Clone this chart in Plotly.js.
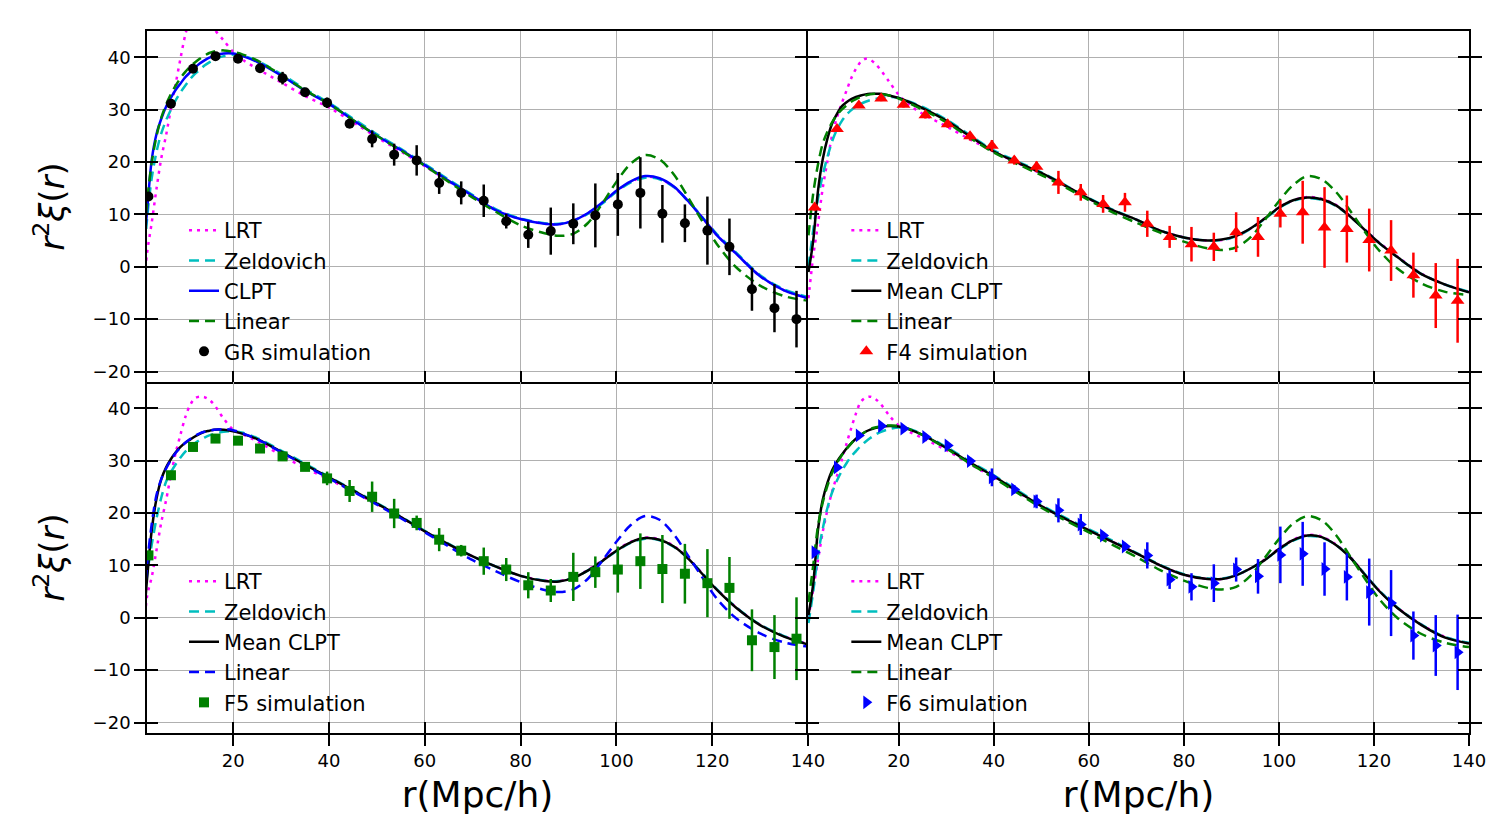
<!DOCTYPE html>
<html><head><meta charset="utf-8">
<script src="https://cdn.plot.ly/plotly-3.0.1.min.js"></script>
<style>html,body{margin:0;padding:0;background:#fff;} #chart{width:1512px;height:840px;}</style>
</head><body><div id="chart"></div>
<script>
// ---------- data ----------
const rCurve = [1,2,3,4,5,6,7,8,9,10,11,12,13,14,15,16,18,20,22,25,30,35,40,45,50,55,60,65,70,75,80,85,88,91,94,97,100,103,106,109,112,115,118,121,125,130,135,140];
const rSim = [2.3,7.0,11.6,16.3,21.0,25.6,30.3,35.0,39.6,44.3,49.0,53.6,58.3,63.0,67.6,72.3,77.0,81.6,86.3,91.0,95.6,100.3,105.0,109.6,114.3,119.0,123.6,128.3,133.0,137.6];

// GR panel
const grLRT  = [-8,2.5,8.5,15,20.8,25.2,30.2,35,39.8,44.3,47.5,49.5,50,49.5,47.8,45.5,43.2,41.0,39.5,37.8,35.2,32.6,30.4,27.6,24.7,22.0,19.2,16.3,13.5,10.8,9.1,8.2,8.1,8.8,10.2,12.2,14.4,16.2,17.2,16.8,15.2,12.5,9.3,6.0,2.5,-1.8,-4.5,-6.0];
const grZel  = [-5,9,17,22,25.5,28,30,31.8,33.3,34.6,35.8,36.8,37.6,38.4,39.0,39.5,40.2,40.5,40.3,39.3,36.8,33.9,31.3,28.3,25.3,22.5,19.6,16.6,13.7,10.9,9.2,8.3,8.2,8.8,10.1,12.0,14.3,16.1,17.0,16.7,15.2,12.5,9.4,6.2,2.7,-1.6,-4.3,-5.8];
const grCLPT = [0,10.5,20.5,25.4,28.3,30.6,32.3,33.8,35.0,36.2,37.1,38.0,38.8,39.4,39.9,40.3,40.7,40.7,40.2,39.1,36.5,33.6,31.1,28.0,25.0,22.3,19.4,16.4,13.5,10.7,9.1,8.2,8.1,8.8,10.2,12.2,14.5,16.3,17.3,16.9,15.3,12.5,9.3,6.0,2.5,-1.8,-4.5,-6.0];
const grLin  = [-2,12,20,25,28.5,31,33,34.6,36,37.2,38.2,39,39.7,40.3,40.8,41.1,41.3,41.0,40.5,39.4,36.6,33.7,31.1,28.0,25.0,22.2,19.3,16.2,13.2,10.4,7.9,6.4,5.9,6.3,8.3,12.0,16.2,19.7,21.3,20.5,17.6,13.2,8.6,4.3,-0.1,-3.6,-5.6,-6.5];
const grSim  = [13.4,31.1,37.8,40.2,39.7,37.9,36.0,33.3,31.3,27.3,24.4,21.4,20.3,16.0,14.1,12.6,8.7,6.1,6.8,8.2,9.8,11.9,14.1,10.1,8.3,6.9,3.8,-4.3,-7.9,-10.0];
const grErr  = [0.4,0.4,0.5,0.5,0.6,0.7,1.2,0.8,1.0,0.8,1.6,2.1,2.9,2.1,2.2,3.1,1.4,2.5,4.5,3.9,6.1,6.0,6.8,5.5,3.6,6.5,5.4,4.1,4.6,5.4];

// F4 panel
const f4LRT  = [-6,2,8.2,15,20.2,25.2,28.5,31.2,33.6,36.0,37.8,39.1,39.7,39.5,38.8,37.8,35.3,32.8,31.0,29.2,26.8,24.3,22.0,19.8,17.8,15.5,13.0,10.8,9.0,6.9,5.6,5.0,5.1,5.8,7.3,9.2,11.3,12.7,13.3,13.0,11.8,9.7,7.2,4.7,1.9,-1.3,-3.4,-4.8];
const f4Zel  = [0,7,13,17.5,21,24,26.2,27.8,29.0,29.9,30.6,31.1,31.5,31.8,32.0,32.2,32.4,32.2,31.6,30.5,28.1,25.1,22.2,20.1,18.0,15.6,13.1,10.9,9.0,6.9,5.6,5.0,5.1,5.8,7.2,9.1,11.2,12.6,13.1,12.8,11.6,9.6,7.1,4.6,1.8,-1.4,-3.4,-4.8];
const f4CLPT = [-1,5,14.5,20.5,24.5,27.4,29.2,30.6,31.4,32.0,32.4,32.7,32.9,33.0,33.0,33.0,32.7,32.2,31.5,30.3,27.9,24.9,22.0,19.9,17.9,15.5,13.0,10.8,9.0,6.9,5.6,5.0,5.2,5.9,7.3,9.2,11.3,12.7,13.2,12.9,11.7,9.6,7.1,4.6,1.8,-1.4,-3.4,-4.9];
const f4Lin  = [6,14,19.5,23.5,25.8,27.6,29.0,30.0,30.8,31.5,32.0,32.4,32.7,32.9,33.0,33.0,32.7,32.1,31.3,30.0,27.6,24.6,21.8,19.6,17.5,15.2,12.7,10.4,8.4,6.5,4.8,3.5,3.2,3.7,5.6,8.9,12.5,15.6,17.3,16.7,14.3,10.7,6.8,3.2,-0.4,-3.2,-4.8,-5.4];
const f4Sim  = [11.3,26.3,30.8,32.1,30.9,28.9,27.2,24.9,23.1,20.3,19.1,16.1,14.2,12.0,12.3,8.2,5.7,4.3,3.8,6.6,5.7,10.1,10.4,7.5,7.2,5.1,3.1,-1.6,-5.5,-6.5];
const f4Err  = [0.6,0.5,0.5,0.5,0.5,0.6,0.7,0.8,1.1,0.8,1.0,2.2,1.6,1.7,1.8,2.5,2.1,3.3,2.7,3.8,3.8,2.6,6.0,7.7,6.4,6.0,5.8,4.3,6.2,8.0];

// F5 panel
const f5LRT  = [-10,4,7.8,13,18.3,22.5,27.3,31.5,35.0,38.3,40.6,41.9,42.2,42.1,41.6,40.7,38.0,35.9,35.0,33.7,31.0,28.6,26.4,24.1,21.7,19.2,16.5,14.0,11.7,9.7,8.0,7.1,7.0,7.7,9.1,10.9,12.9,14.5,15.3,15.0,13.7,11.4,8.4,5.4,2.0,-1.3,-3.5,-5.0];
const f5Zel  = [-2,8,14,19,23,26,27.8,29.3,30.6,31.7,32.6,33.3,33.9,34.4,34.8,35.1,35.5,35.6,35.3,34.3,31.9,29.4,26.9,24.4,21.9,19.3,16.6,14.1,11.7,9.7,8.0,7.1,7.0,7.6,9.0,10.8,12.7,14.3,15.1,14.8,13.5,11.3,8.4,5.4,2.0,-1.3,-3.5,-5.0];
const f5CLPT = [-5,7.3,16.8,22.8,26.5,28.7,30.3,31.6,32.6,33.4,34.0,34.6,35.1,35.5,35.7,35.9,35.9,35.6,35.1,34.1,31.7,29.2,26.8,24.3,21.8,19.2,16.5,14.0,11.7,9.7,8.0,7.0,6.9,7.6,9.0,10.8,12.8,14.4,15.2,14.9,13.6,11.3,8.3,5.3,1.9,-1.4,-3.6,-5.1];
const f5Lin  = [-2,10,18,23.5,26.5,28.5,30.1,31.5,32.5,33.4,34.1,34.7,35.2,35.5,35.7,35.9,36.0,35.8,35.2,34.1,31.6,29.1,26.6,24.1,21.6,19.0,16.3,13.6,11.0,8.8,6.8,5.3,4.9,5.4,7.4,10.8,14.5,17.7,19.4,18.7,15.9,11.8,7.6,3.6,-0.1,-3.0,-4.7,-5.5];
const f5Sim  = [11.9,27.2,32.6,34.2,33.8,32.3,30.8,28.8,26.6,24.2,23.1,19.9,18.1,14.9,12.8,10.8,9.2,6.2,5.2,7.8,8.7,9.2,10.8,9.3,8.4,6.6,5.7,-4.3,-5.6,-4.0];
const f5Err  = [0.4,0.5,0.5,0.5,0.5,0.6,0.6,0.7,1.3,2.1,2.9,2.8,1.4,2.2,1.1,2.6,2.2,2.5,2.2,4.6,3.0,4.4,5.3,6.5,5.7,6.5,5.9,5.9,6.1,7.9];

// F6 panel
const f6LRT  = [0,5.5,11,16.4,20.6,24.2,27.1,30.1,33.2,36.2,39.0,41.2,42.0,42.2,41.8,41.0,38.6,36.7,35.6,34.3,32.0,29.3,26.8,24.0,21.3,18.9,16.7,14.5,12.3,10.0,8.2,7.4,7.4,8.1,9.4,11.1,13.2,14.9,15.8,15.5,14.0,11.6,8.4,5.3,1.9,-1.3,-3.7,-4.8];
const f6Zel  = [-1,5,12,17,21,24,26.2,28.0,29.5,30.8,31.8,32.8,33.6,34.3,34.9,35.4,36.0,36.3,36.1,35.1,32.6,29.8,27.2,24.3,21.5,19.1,16.9,14.7,12.4,10.1,8.3,7.5,7.5,8.1,9.4,11.0,13.0,14.7,15.6,15.3,13.9,11.5,8.4,5.3,1.9,-1.3,-3.7,-4.8];
const f6CLPT = [0.5,6.5,16.8,22.5,25.8,28.2,29.8,31.1,32.3,33.3,34.2,34.9,35.5,35.9,36.2,36.4,36.6,36.5,36.0,34.9,32.4,29.6,27.0,24.1,21.3,18.9,16.7,14.5,12.3,10.0,8.2,7.4,7.4,8.1,9.4,11.0,13.1,14.8,15.7,15.4,13.9,11.5,8.3,5.2,1.8,-1.4,-3.8,-4.9];
const f6Lin  = [3,10,17.5,22,25.2,27.7,29.5,31.0,32.2,33.3,34.2,34.9,35.5,36.0,36.3,36.5,36.7,36.6,36.1,34.9,32.3,29.4,26.7,23.8,21.0,18.6,16.3,13.9,11.6,9.1,7.1,5.7,5.4,5.9,8.0,11.4,15.0,18.0,19.4,18.6,15.8,11.7,7.6,3.7,-0.1,-3.1,-4.8,-5.6];
const f6Sim  = [12.5,28.7,34.8,36.6,36.1,34.5,32.9,29.9,26.8,24.5,22.2,20.5,17.8,15.7,13.6,11.9,7.3,5.9,6.6,9.2,7.9,12.0,12.2,9.3,7.8,4.9,2.8,-3.4,-5.3,-6.6];
const f6Err  = [0.4,0.5,0.5,0.5,0.5,0.6,0.6,0.7,1.7,0.8,1.3,2.3,2.0,0.6,0.7,2.5,1.8,2.6,3.6,2.3,3.3,5.4,6.1,5.1,4.5,6.4,6.3,4.6,5.8,7.2];

const xTicks = [20,40,60,80,100,120,140];
const yTicks = [-20,-10,0,10,20,30,40];
const simNames = ['GR simulation','F4 simulation','F5 simulation','F6 simulation'];
const clptNames = ['CLPT','Mean CLPT','Mean CLPT','Mean CLPT'];

// ---------- styling ----------
const FONT = 'DejaVu Sans, sans-serif';
const panels = [
  {k:1, lrt:grLRT, zel:grZel, clpt:grCLPT, lin:grLin, sim:grSim, err:grErr, clptColor:'#0000ff', linColor:'#008000', simColor:'#000000', symbol:'circle', size:10},
  {k:2, lrt:f4LRT, zel:f4Zel, clpt:f4CLPT, lin:f4Lin, sim:f4Sim, err:f4Err, clptColor:'#000000', linColor:'#008000', simColor:'#ff0000', symbol:'triangle-up', size:12},
  {k:3, lrt:f5LRT, zel:f5Zel, clpt:f5CLPT, lin:f5Lin, sim:f5Sim, err:f5Err, clptColor:'#000000', linColor:'#0000ff', simColor:'#008000', symbol:'square', size:10},
  {k:4, lrt:f6LRT, zel:f6Zel, clpt:f6CLPT, lin:f6Lin, sim:f6Sim, err:f6Err, clptColor:'#000000', linColor:'#008000', simColor:'#0000ff', symbol:'triangle-right', size:12}
];
const LW = 2.5;
const data = [];
panels.forEach((p, i) => {
  const xa = 'x' + (p.k === 1 ? '' : p.k);
  const ya = 'y' + (p.k === 1 ? '' : p.k);
  const lg = 'legend' + (p.k === 1 ? '' : p.k);
  const base = {type:'scatter', mode:'lines', x:rCurve, xaxis:xa, yaxis:ya, legend:lg, hoverinfo:'skip'};
  data.push(Object.assign({}, base, {name:'LRT', y:p.lrt, line:{color:'#ff00ff', width:LW, dash:'3px,5px', shape:'spline', smoothing:0.9}}));
  data.push(Object.assign({}, base, {name:'Zeldovich', y:p.zel, line:{color:'#00bfbf', width:LW, dash:'10px,6px', shape:'spline', smoothing:0.9}}));
  data.push(Object.assign({}, base, {name:clptNames[i], y:p.clpt, line:{color:p.clptColor, width:LW, shape:'spline', smoothing:0.9}}));
  data.push(Object.assign({}, base, {name:'Linear', y:p.lin, line:{color:p.linColor, width:LW, dash:'10px,6px', shape:'spline', smoothing:0.9}}));
  data.push({type:'scatter', mode:'markers', name:simNames[i], x:rSim, y:p.sim, xaxis:xa, yaxis:ya, legend:lg, hoverinfo:'skip',
    marker:{symbol:p.symbol, size:p.size, color:p.simColor, line:{width:0}},
    error_y:{type:'data', array:p.err, visible:true, thickness:2.5, width:0, color:p.simColor}});
  // dummy traces that register the overlay tick axes
  data.push({type:'scatter', x:[null], y:[null], xaxis:xa, yaxis:'y' + (p.k + 4), showlegend:false, hoverinfo:'skip'});
  if (p.k >= 3) data.push({type:'scatter', x:[null], y:[null], xaxis:'x' + (p.k + 4), yaxis:ya, showlegend:false, hoverinfo:'skip'});
});

const TL = 11, TW = 1.6, LNW = 1.6;
const xRanges = {1:[2,140], 2:[0.9,140], 3:[2,140], 4:[0.9,140]};
const xDom = {1:[0,0.5], 2:[0.5,1], 3:[0,0.5], 4:[0.5,1]};
const yDom = {1:[0.5,1], 2:[0.5,1], 3:[0,0.5], 4:[0,0.5]};
const layout = {
  width:1512, height:840,
  margin:{l:147, r:43, t:31, b:107},
  paper_bgcolor:'#fff', plot_bgcolor:'#fff',
  font:{family:FONT, color:'#000'},
  showlegend:true
};
const titleFont = {family:FONT, size:36, color:'#000'};
[1,2,3,4].forEach(k => {
  const s = k === 1 ? '' : String(k);
  const bottom = k >= 3, left = (k === 1 || k === 3);
  const xa = {
    domain:xDom[k], range:xRanges[k], anchor:'y' + s, tickmode:'array', tickvals:xTicks,
    ticks: bottom ? 'outside' : 'inside', ticklen:TL, tickwidth:TW, tickcolor:'#000',
    showticklabels:bottom, tickfont:{family:FONT, size:18, color:'#000'},
    showline:true, linecolor:'#000', linewidth:LNW, mirror: !bottom,
    showgrid:true, gridcolor:'#b0b0b0', gridwidth:1.3, zeroline:false
  };
  if (bottom) xa.title = {text:'r(Mpc/h)', font:titleFont, standoff:11};
  layout['xaxis' + s] = xa;
  const ya = {
    domain:yDom[k], range:[-22,45], anchor:'x' + s, tickmode:'array', tickvals:yTicks,
    ticks:'outside', ticklen:TL, tickwidth:TW, tickcolor:'#000',
    showticklabels:left, tickfont:{family:FONT, size:18, color:'#000'},
    showline:true, linecolor:'#000', linewidth:LNW, mirror: left ? false : 'ticks',
    showgrid:true, gridcolor:'#b0b0b0', gridwidth:1.3, zeroline:false
  };
  if (left) ya.title = {text:'<i>r</i><sup>2</sup><i>ξ</i>(<i>r</i>)', font:{family:FONT, size:34, color:'#000'}, standoff:18};
  layout['yaxis' + s] = ya;
  layout['yaxis' + (k + 4)] = {
    overlaying:'y' + s, anchor:'x' + s, side:'left', range:[-22,45], tickmode:'array', tickvals:yTicks,
    ticks:'inside', ticklen:TL, tickwidth:TW, tickcolor:'#000', showticklabels:false,
    showline:true, linecolor:'#000', linewidth:LNW, mirror: left ? false : 'ticks', showgrid:false, zeroline:false
  };
  if (bottom) {
    layout['xaxis' + (k + 4)] = {
      overlaying:'x' + s, anchor:'y' + s, side:'bottom', range:xRanges[k], tickmode:'array', tickvals:xTicks,
      ticks:'inside', ticklen:TL, tickwidth:TW, tickcolor:'#000', showticklabels:false,
      showline:true, linecolor:'#000', linewidth:LNW, mirror:false, showgrid:false, zeroline:false
    };
  }
});
const legBase = {bgcolor:'rgba(0,0,0,0)', borderwidth:0, xanchor:'left', yanchor:'top', itemwidth:30, tracegroupgap:0,
  font:{family:FONT, size:21, color:'#000'}, traceorder:'normal'};
layout.legend  = Object.assign({}, legBase, {x:0.028, y:0.745});
layout.legend2 = Object.assign({}, legBase, {x:0.529, y:0.745});
layout.legend3 = Object.assign({}, legBase, {x:0.028, y:0.245});
layout.legend4 = Object.assign({}, legBase, {x:0.529, y:0.245});

Plotly.newPlot('chart', data, layout, {displayModeBar:false, responsive:false});
</script>
</body></html>
